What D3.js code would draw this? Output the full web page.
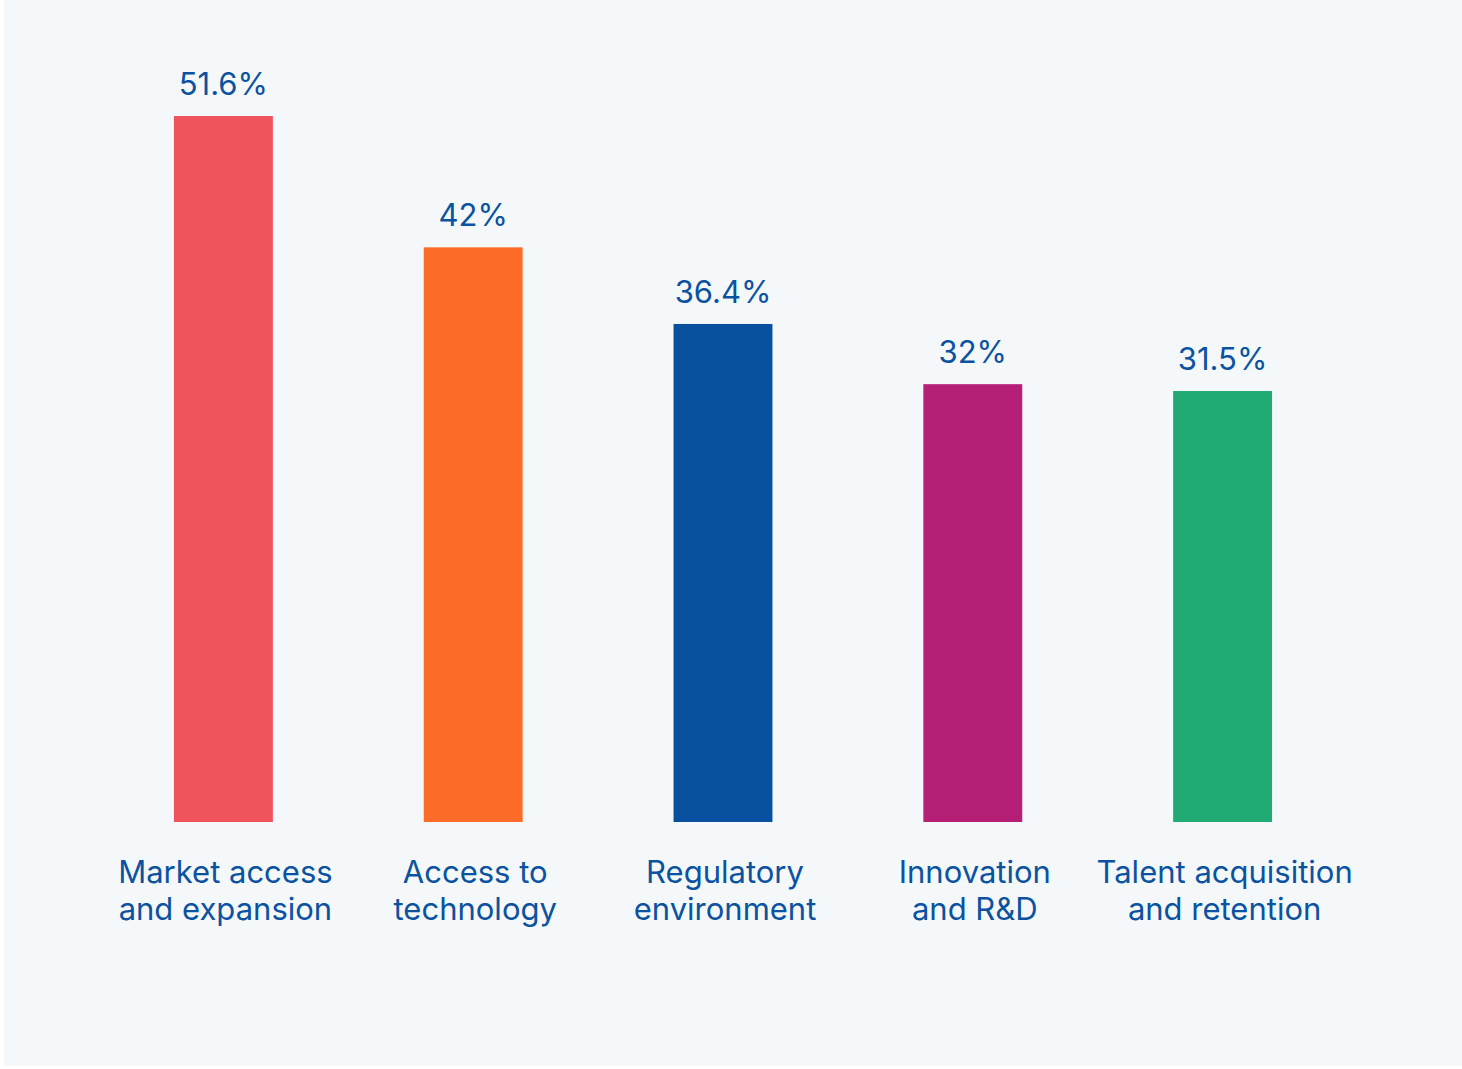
<!DOCTYPE html>
<html>
<head>
<meta charset="utf-8">
<script src="https://cdn.jsdelivr.net/npm/d3@7"></script>
<style>
  html, body { margin: 0; padding: 0; background: #ffffff; }
  text { font-family: "Inter", "Noto Sans", sans-serif; }
</style>
</head>
<body>
<svg id="chart" width="1462" height="1069"></svg>
<script>
// data
var categories = [
    ["Market access", "and expansion"],
    ["Access to", "technology"],
    ["Regulatory", "environment"],
    ["Innovation", "and R&D"],
    ["Talent acquisition", "and retention"]
];
var values = [51.6, 42, 36.4, 32, 31.5];
var valueLabels = ["51.6%", "42%", "36.4%", "32%", "31.5%"];
var colors = ["#ef535c", "#fc6b27", "#09519e", "#b51f76", "#22aa74"];

var svg = d3.select("#chart");
var textColor = "#0b52a0";

// panel
svg.append("rect")
    .attr("x", 4).attr("y", 0)
    .attr("width", 1458).attr("height", 1066)
    .attr("fill", "#f4f8fb");

var baseline = 822;

var x = d3.scaleBand()
    .domain(d3.range(values.length))
    .range([98.5, 1347.5])
    .paddingInner(0.604)
    .paddingOuter(0.302);

var y = d3.scaleLinear()
    .domain([0, 51.6])
    .range([baseline, 116]);

var g = svg.append("g").attr("class", "bars");

g.selectAll("rect")
    .data(values)
    .enter().append("rect")
    .attr("x", function(d, i){ return x(i); })
    .attr("y", function(d){ return y(d); })
    .attr("width", x.bandwidth())
    .attr("height", function(d){ return baseline - y(d); })
    .attr("fill", function(d, i){ return colors[i]; });

// value labels
g.selectAll("text.val")
    .data(values)
    .enter().append("text")
    .attr("class", "val")
    .attr("x", function(d, i){ return x(i) + x.bandwidth() / 2; })
    .attr("y", function(d){ return y(d) - 21; })
    .attr("text-anchor", "middle")
    .attr("font-size", 31)
    .attr("fill", textColor)
    .text(function(d, i){ return valueLabels[i]; });

// category labels
var cat = svg.append("g").attr("class", "cats")
    .selectAll("text")
    .data(categories)
    .enter().append("text")
    .attr("text-anchor", "middle")
    .attr("font-size", 31)
    .attr("fill", textColor)
    .attr("transform", function(d, i){
        return "translate(" + (x(i) + x.bandwidth() / 2 + 2) + ",883)";
    });

cat.selectAll("tspan")
    .data(function(d){ return d; })
    .enter().append("tspan")
    .attr("x", 0)
    .attr("y", function(d, j){ return j * 37; })
    .text(function(d){ return d; });
</script>
</body>
</html>
